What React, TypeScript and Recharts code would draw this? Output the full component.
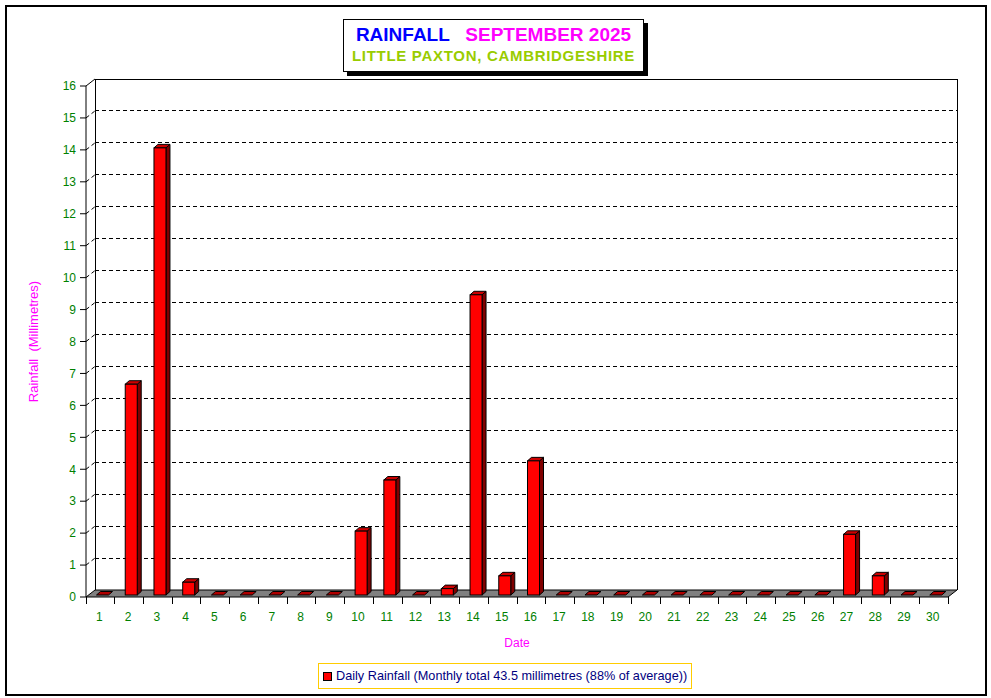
import { Bar, BarChart, CartesianGrid, Legend, XAxis, YAxis } from "recharts";

const DAYS = [
  "1", "2", "3", "4", "5", "6", "7", "8", "9", "10",
  "11", "12", "13", "14", "15", "16", "17", "18", "19", "20",
  "21", "22", "23", "24", "25", "26", "27", "28", "29", "30",
];
const RAIN_MM = [
  0, 6.6, 14.0, 0.4, 0, 0, 0, 0, 0, 2.0,
  3.6, 0, 0.2, 9.4, 0.6, 4.2, 0, 0, 0, 0,
  0, 0, 0, 0, 0, 0, 1.9, 0.6, 0, 0,
];
const Y_TICKS = [0, 1, 2, 3, 4, 5, 6, 7, 8, 9, 10, 11, 12, 13, 14, 15, 16];
const SERIES_NAME =
  "Daily Rainfall (Monthly total 43.5 millimetres (88% of average))";

const data = DAYS.map((day, i) => ({ day, rain: RAIN_MM[i] }));

const FONT = "Arial, 'Liberation Sans', sans-serif";
const GREEN = "#008000";
const MAGENTA = "#FF00FF";
// depth of the back wall
const DX = 9;
const DY = 7;

function GridLine(p: any) {
  const { x1, x2, y1, y, height } = p;
  const bottom = y + height;
  if (Math.abs(y1 - bottom) < 0.5) {
    // floor
    return (
      <polygon
        points={`${x1},${y1} ${x2},${y1} ${x2 + DX},${y1 - DY} ${x1 + DX},${y1 - DY}`}
        fill="#808080"
        stroke="#000"
        strokeWidth={1}
      />
    );
  }
  if (Math.abs(y1 - y) < 0.5) {
    // back wall frame
    return (
      <g fill="none" stroke="#000" strokeWidth={1} shapeRendering="crispEdges">
        <line x1={x1} y1={y1} x2={x1 + DX} y2={y1 - DY} shapeRendering="auto" />
        <line x1={x1 + DX} y1={y1 - DY} x2={x2 + DX} y2={y1 - DY} />
        <line x1={x2 + DX} y1={y1 - DY} x2={x2 + DX} y2={bottom - DY} />
        <line x1={x1 + DX} y1={y1 - DY} x2={x1 + DX} y2={bottom - DY} />
      </g>
    );
  }
  return (
    <g stroke="#000" strokeWidth={1} strokeDasharray="4 3">
      <line x1={x1} y1={y1} x2={x1 + DX} y2={y1 - DY} />
      <line
        x1={x1 + DX}
        y1={y1 - DY}
        x2={x2 + DX}
        y2={y1 - DY}
        shapeRendering="crispEdges"
      />
    </g>
  );
}

function Bar3D(p: any) {
  const { x, y, width, height } = p;
  const h = Math.max(height || 0, 0);
  const bx = x + 2.5;
  const by = y - 2;
  const d = 4;
  const e = 3.5;
  return (
    <g stroke="#000" strokeWidth={1}>
      {h > 0 && (
        <polygon
          points={`${bx + width},${by} ${bx + width + d},${by - e} ${bx + width + d},${by + h - e} ${bx + width},${by + h}`}
          fill="#800000"
        />
      )}
      <polygon
        points={`${bx},${by} ${bx + d},${by - e} ${bx + width + d},${by - e} ${bx + width},${by}`}
        fill={h > 0 ? "#CC0000" : "#B00000"}
      />
      {h > 0 && <rect x={bx} y={by} width={width} height={h} fill="#FF0000" />}
    </g>
  );
}

function DayTick(p: any) {
  const { x, y, payload, index, visibleTicksCount, width } = p;
  const half =
    payload && payload.offset ? payload.offset : width / visibleTicksCount / 2;
  const last = index === visibleTicksCount - 1;
  return (
    <g>
      <line x1={x - half} y1={y} x2={x - half} y2={y + 7} stroke="#000" shapeRendering="crispEdges" />
      {last && (
        <line x1={x + half} y1={y} x2={x + half} y2={y + 7} stroke="#000" shapeRendering="crispEdges" />
      )}
      <text x={x - 1} y={y + 24} textAnchor="middle" fill={GREEN} fontSize={12} fontFamily={FONT}>
        {payload.value}
      </text>
    </g>
  );
}

function YLabel(p: any) {
  const vb = p.viewBox || {};
  const cx = vb.x - 13;
  const cy = vb.y + vb.height / 2;
  return (
    <text
      x={cx}
      y={cy}
      transform={`rotate(-90 ${cx} ${cy})`}
      textAnchor="middle"
      dominantBaseline="central"
      fill={MAGENTA}
      fontSize={13}
      fontFamily={FONT}
      style={{ whiteSpace: "pre" }}
    >
      {"Rainfall  (Millimetres)"}
    </text>
  );
}

function LegendBox() {
  return (
    <div
      style={{
        display: "inline-flex",
        alignItems: "center",
        border: "1px solid #FFCC00",
        background: "#fff",
        padding: "4px 4px 4px 4px",
        fontFamily: FONT,
        fontSize: 12.7,
        lineHeight: "16px",
        color: "#000080",
        whiteSpace: "nowrap",
      }}
    >
      <span
        style={{
          display: "inline-block",
          width: 7,
          height: 7,
          background: "#FF0000",
          border: "1px solid #000",
          marginRight: 4,
        }}
      />
      {SERIES_NAME}
    </div>
  );
}

export default function App() {
  return (
    <div style={{ position: "absolute", left: 0, top: 0, width: 991, height: 698, background: "#fff" }}>
      <style>{"body{margin:0}"}</style>
      <div
        style={{
          position: "absolute",
          left: 5,
          top: 5,
          width: 978,
          height: 687,
          border: "2px solid #000",
        }}
      />
      <BarChart
        width={991}
        height={698}
        data={data}
        margin={{ top: 86, right: 43, bottom: 45, left: 46 }}
        barSize={12}
        style={{ position: "absolute", left: 0, top: 0 }}
      >
        <CartesianGrid vertical={false} horizontal={GridLine as any} />
        <XAxis
          dataKey="day"
          axisLine={false}
          tickLine={false}
          tickSize={0}
          tickMargin={0}
          height={30}
          interval={0}
          tick={DayTick}
          label={{
            value: "Date",
            position: "bottom",
            offset: 11,
            fill: MAGENTA,
            fontSize: 12,
            fontFamily: FONT,
          }}
        />
        <YAxis
          width={40}
          domain={[0, 16]}
          ticks={Y_TICKS}
          interval={0}
          axisLine={{ stroke: "#000" }}
          tickLine={{ stroke: "#000" }}
          tickSize={6}
          tickMargin={4}
          tick={{ fill: GREEN, fontSize: 12, fontFamily: FONT }}
          label={{ content: YLabel }}
        />
        <Legend
          content={LegendBox}
          wrapperStyle={{ position: "absolute", left: 318, top: 663, width: "auto" }}
        />
        <Bar
          dataKey="rain"
          name={SERIES_NAME}
          fill="#FF0000"
          shape={Bar3D}
          isAnimationActive={false}
        />
      </BarChart>
      <div
        style={{
          position: "absolute",
          left: 343,
          top: 19,
          width: 299,
          height: 51,
          border: "1px solid #000",
          boxShadow: "4px 4px 0 #000",
          background: "#fff",
          fontFamily: FONT,
          fontWeight: "bold",
          textAlign: "center",
        }}
      >
        <div style={{ fontSize: 19, lineHeight: "22px", marginTop: 4, whiteSpace: "pre" }}>
          <span style={{ color: "#0000FF" }}>RAINFALL</span>
          <span>{"   "}</span>
          <span style={{ color: MAGENTA }}>SEPTEMBER 2025</span>
        </div>
        <div style={{ fontSize: 15, lineHeight: "20px", color: "#99CC00", letterSpacing: 0.7 }}>
          LITTLE PAXTON, CAMBRIDGESHIRE
        </div>
      </div>
    </div>
  );
}
